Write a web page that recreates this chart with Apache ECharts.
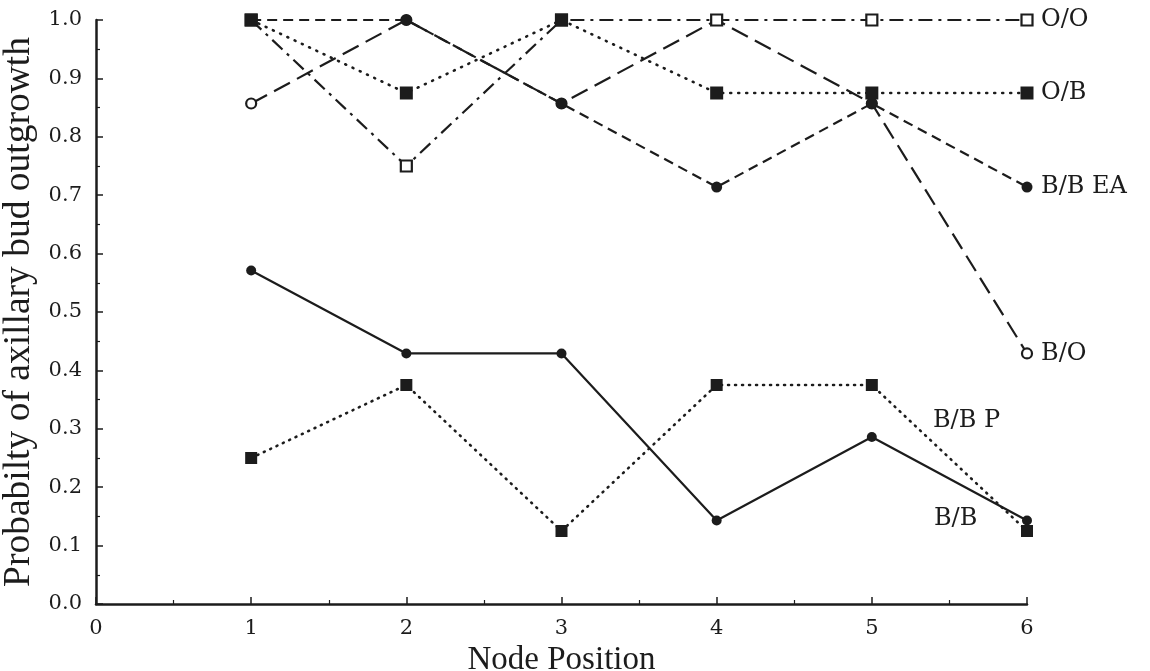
<!DOCTYPE html>
<html>
<head>
<meta charset="utf-8">
<script src="https://cdn.jsdelivr.net/npm/echarts@6/dist/echarts.min.js"></script>
<style>
html,body{margin:0;padding:0;background:#fff;}
#chart{width:1150px;height:671px;}
</style>
</head>
<body>
<div id="chart"></div>
<script>
// Node positions
var nodes = [1, 2, 3, 4, 5, 6];
// Probability of axillary bud outgrowth per treatment
var seriesNames = ['B/O', 'B/B EA', 'O/O', 'O/B', 'B/B', 'B/B P'];
var bo   = [0.857, 1.0, 0.857, 1.0, 0.857, 0.429];
var bbea = [1.0, 1.0, 0.857, 0.714, 0.857, 0.714];
var oo   = [1.0, 0.75, 1.0, 1.0, 1.0, 1.0];
var ob   = [1.0, 0.875, 1.0, 0.875, 0.875, 0.875];
var bb   = [0.571, 0.429, 0.429, 0.143, 0.286, 0.143];
var bbp  = [0.25, 0.375, 0.125, 0.375, 0.375, 0.125];
// Free-standing label anchors (data coords)
var labelBBP = [5.61, 0.313];
var labelBB  = [5.54, 0.146];

var INK = '#1c1c1c';
var FONT = 'Liberation Serif';
var FONT2 = 'DejaVu Serif';

function pts(arr){ return nodes.map(function(n,i){ return [n, arr[i]]; }); }

var endLab = {
  show: true, formatter: '{a}', color: INK, fontFamily: FONT2, fontSize: 24, distance: 14
};

function mkSeries(name, data, lineType, symbol, size, filled, extra){
  var dotted = Array.isArray(lineType) && lineType[0] <= 1;
  var s = {
    name: name, type: 'line', data: pts(data),
    symbol: symbol, symbolSize: size, showSymbol: true,
    lineStyle: { color: INK, width: dotted ? 2.6 : 2.2, type: lineType, cap: dotted ? 'round' : 'butt' },
    itemStyle: { color: filled ? INK : '#fff', borderColor: INK, borderWidth: filled ? 0 : 2.2 },
    emphasis: { disabled: true },
    animation: false
  };
  for (var k in extra) s[k] = extra[k];
  return s;
}

var chart = echarts.init(document.getElementById('chart'));
chart.setOption({
  backgroundColor: '#fff',
  animation: false,
  grid: { left: 96, right: 123, top: 20, bottom: 67, containLabel: false, outerBoundsMode: 'none' },
  xAxis: {
    type: 'value', min: 0, max: 6, interval: 1,
    name: 'Node Position', nameLocation: 'middle', nameGap: 36,
    nameTextStyle: { color: INK, fontFamily: FONT, fontSize: 33 },
    axisLine: { lineStyle: { color: INK, width: 2.5 } },
    axisTick: { inside: true, length: 7, lineStyle: { color: INK, width: 1.5 } },
    minorTick: { show: true, splitNumber: 2, length: 4, lineStyle: { color: INK, width: 1.2 } },
    axisLabel: { color: INK, fontFamily: FONT2, fontSize: 21, margin: 14 },
    splitLine: { show: false }
  },
  yAxis: {
    type: 'value', min: 0, max: 1, interval: 0.1,
    name: 'Probabilty of axillary bud outgrowth', nameLocation: 'middle', nameGap: 48, nameRotate: 90,
    nameTextStyle: { color: INK, fontFamily: FONT, fontSize: 37.5 },
    axisLine: { show: true, lineStyle: { color: INK, width: 2.5 } },
    axisTick: { show: true, inside: true, length: 7, lineStyle: { color: INK, width: 1.5 } },
    minorTick: { show: true, splitNumber: 2, length: 4, lineStyle: { color: INK, width: 1.2 } },
    axisLabel: { color: INK, fontFamily: FONT2, fontSize: 21, margin: 14,
      formatter: function(v){ return v.toFixed(1); } },
    splitLine: { show: false }
  },
  series: [
    mkSeries('B/O', bo, [18, 8], 'circle', 10, false, { endLabel: endLab, z: 2 }),
    mkSeries('B/B EA', bbea, [10, 6], 'circle', 11, true, { endLabel: endLab, z: 3 }),
    mkSeries('O/O', oo, [14, 6, 3, 6], 'rect', 11, false, { endLabel: endLab, z: 4 }),
    mkSeries('O/B', ob, [1, 7], 'rect', 13, true, { endLabel: endLab, z: 5 }),
    mkSeries('B/B', bb, 'solid', 'circle', 10, true, {
      z: 6,
      markPoint: { symbol: 'rect', symbolSize: 1, itemStyle: { color: 'rgba(0,0,0,0)' },
        label: { show: true, position: 'inside', formatter: 'B/B', color: INK, fontFamily: FONT2, fontSize: 24 },
        data: [{ coord: labelBB }] }
    }),
    mkSeries('B/B P', bbp, [1, 6], 'rect', 12, true, {
      z: 7,
      markPoint: { symbol: 'rect', symbolSize: 1, itemStyle: { color: 'rgba(0,0,0,0)' },
        label: { show: true, position: 'inside', formatter: 'B/B P', color: INK, fontFamily: FONT2, fontSize: 24 },
        data: [{ coord: labelBBP }] }
    })
  ]
});
</script>
</body>
</html>
